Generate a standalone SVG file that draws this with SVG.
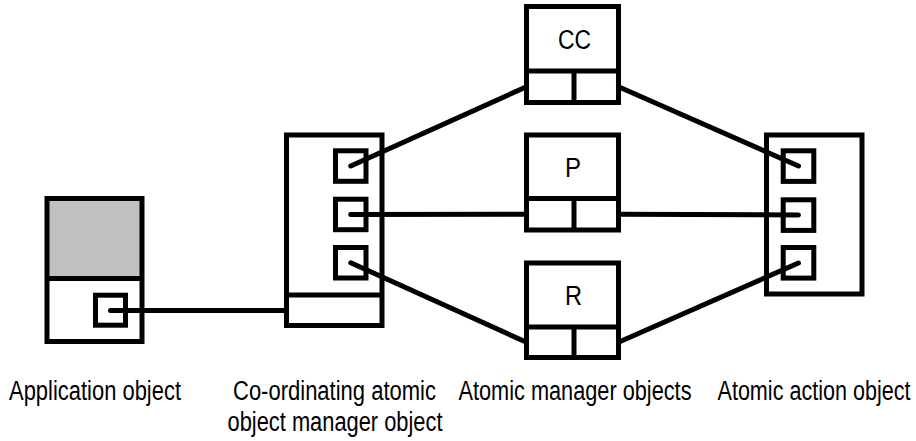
<svg xmlns="http://www.w3.org/2000/svg" width="916" height="441" viewBox="0 0 916 441">
<style>
.box{fill:none;stroke:#000;stroke-width:5}
.sq{fill:none;stroke:#000;stroke-width:5}
.ln{fill:none;stroke:#000;stroke-width:5;stroke-linecap:butt}
.conn{fill:none;stroke:#000;stroke-width:5;stroke-linecap:round}
.lbl{font-family:"Liberation Sans",Arial,Helvetica,sans-serif;font-size:27px;fill:#000}
</style>
<rect x="0" y="0" width="916" height="441" fill="#fff"/>
<g id="connectors">
<line class="conn" x1="110.5" y1="310.5" x2="286.5" y2="310.5"/>
<line class="conn" x1="350.75" y1="166" x2="526.5" y2="86.75"/>
<line class="conn" x1="618.5" y1="86.75" x2="798.5" y2="166"/>
<line class="conn" x1="350.75" y1="214.5" x2="526.5" y2="214.25"/>
<line class="conn" x1="618.5" y1="214.25" x2="798.5" y2="215"/>
<line class="conn" x1="350.75" y1="262.75" x2="526.5" y2="342.25"/>
<line class="conn" x1="618.5" y1="342.25" x2="798.5" y2="263"/>
</g>
<g id="application-object">
<rect x="47" y="198.5" width="95" height="80" fill="#c0c0c0" stroke="none"/>
<rect class="box" x="47" y="198.5" width="95" height="143"/>
<line class="ln" x1="47" y1="278.5" x2="142" y2="278.5"/>
<rect class="sq" x="95.5" y="295.2" width="30" height="30"/>
</g>
<g id="coordinator">
<rect class="box" x="286.5" y="135" width="95.5" height="190.5"/>
<line class="ln" x1="286.5" y1="295" x2="382" y2="295"/>
<rect class="sq" x="335.5" y="150.8" width="30.5" height="30.5"/>
<rect class="sq" x="335.5" y="199.2" width="30.5" height="30.5"/>
<rect class="sq" x="335.5" y="247.5" width="30.5" height="30.5"/>
</g>
<g id="cc">
<rect class="box" x="526.5" y="6.5" width="92" height="96"/>
<line class="ln" x1="526.5" y1="71" x2="618.5" y2="71"/>
<line class="ln" x1="574" y1="71" x2="574" y2="102.5"/>
<text class="lbl" x="558" y="49" textLength="33" lengthAdjust="spacingAndGlyphs">CC</text>
</g>
<g id="p">
<rect class="box" x="526.5" y="135" width="92" height="95"/>
<line class="ln" x1="526.5" y1="198.5" x2="618.5" y2="198.5"/>
<line class="ln" x1="574" y1="198.5" x2="574" y2="230"/>
<text class="lbl" x="565" y="177" textLength="16" lengthAdjust="spacingAndGlyphs">P</text>
</g>
<g id="r">
<rect class="box" x="526.5" y="263" width="92" height="94.5"/>
<line class="ln" x1="526.5" y1="327" x2="618.5" y2="327"/>
<line class="ln" x1="574" y1="327" x2="574" y2="357.5"/>
<text class="lbl" x="565" y="305" textLength="17" lengthAdjust="spacingAndGlyphs">R</text>
</g>
<g id="atomic-action">
<rect class="box" x="766.5" y="135" width="95.5" height="159"/>
<rect class="sq" x="783.2" y="150.8" width="30.6" height="30.6"/>
<rect class="sq" x="783.2" y="199.8" width="30.6" height="30.6"/>
<rect class="sq" x="783.2" y="247.5" width="30.6" height="30.6"/>
</g>
<g id="labels">
<text class="lbl" x="9" y="400" textLength="172" lengthAdjust="spacingAndGlyphs">Application object</text>
<text class="lbl" x="233" y="400" textLength="203" lengthAdjust="spacingAndGlyphs">Co-ordinating atomic</text>
<text class="lbl" x="227.5" y="431" textLength="215" lengthAdjust="spacingAndGlyphs">object manager object</text>
<text class="lbl" x="458.5" y="400" textLength="233" lengthAdjust="spacingAndGlyphs">Atomic manager objects</text>
<text class="lbl" x="717.5" y="400" textLength="193" lengthAdjust="spacingAndGlyphs">Atomic action object</text>
</g>
</svg>
